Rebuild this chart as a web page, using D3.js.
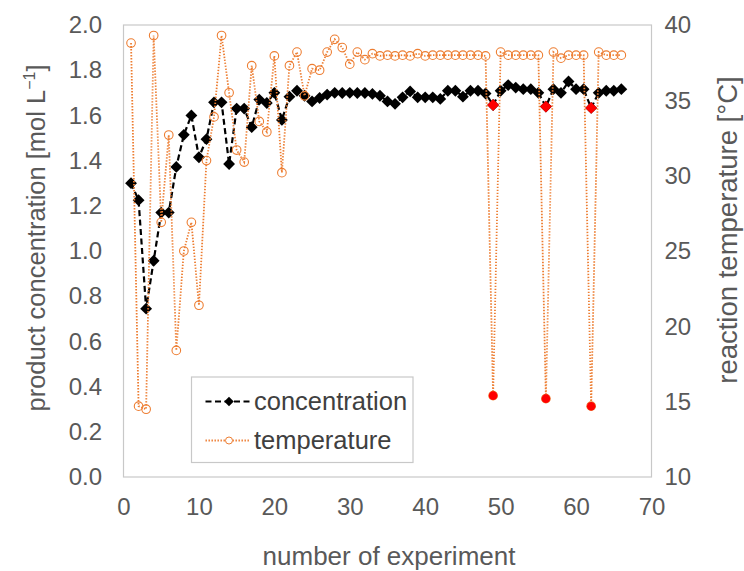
<!DOCTYPE html>
<html>
<head>
<meta charset="utf-8">
<script src="https://cdn.jsdelivr.net/npm/d3@7"></script>
<style>
	body { margin: 0; background: #fff; }
	text { font-family: "Liberation Sans", Arial, sans-serif; }
</style>
</head>
<body>
<div id="chart"></div>
<script>
(function () {'use strict';

var experiments = d3.range(1, 67);

var concentration = [
	1.30, 1.225, 0.745, 0.957, 1.17, 1.17, 1.372, 1.514, 1.60, 1.415,
	1.495, 1.658, 1.658, 1.385, 1.63, 1.63, 1.548, 1.67, 1.655, 1.70,
	1.58, 1.683, 1.709, 1.687, 1.662, 1.677, 1.692, 1.70, 1.699, 1.70,
	1.699, 1.699, 1.695, 1.687, 1.662, 1.651, 1.68, 1.706, 1.68, 1.68,
	1.68, 1.673, 1.709, 1.709, 1.683, 1.709, 1.709, 1.697, 1.646, 1.709,
	1.734, 1.723, 1.716, 1.716, 1.70, 1.639, 1.716, 1.70, 1.75, 1.716,
	1.716, 1.633, 1.70, 1.709, 1.709, 1.716
];

var temperature = [
	38.8, 14.7, 14.5, 39.3, 26.9, 32.7, 18.4, 25.0, 26.9, 21.4,
	31.0, 33.9, 39.3, 35.5, 31.7, 30.9, 37.3, 33.6, 32.9, 37.95,
	30.2, 37.3, 38.2, 35.3, 37.1, 37.0, 38.2, 39.05, 38.5, 37.4,
	38.2, 37.7, 38.1, 37.95, 38.0, 37.95, 38.0, 37.95, 38.1, 37.95,
	38.0, 38.0, 38.0, 38.0, 38.0, 38.0, 38.0, 37.95, 15.4, 38.2,
	38.0, 38.0, 38.0, 38.0, 38.0, 15.2, 38.2, 37.8, 38.0, 38.0,
	38.0, 14.7, 38.2, 38.0, 38.0, 38.0
];

// experiments highlighted in red
var highlighted = [49, 56, 62];

var xTicks = [0, 10, 20, 30, 40, 50, 60, 70],
	yTicks = d3.range(0, 2.01, 0.2),
	y2Ticks = [10, 15, 20, 25, 30, 35, 40];

var width = 744,
	height = 571,
	plot = { left: 123.5, right: 651.5, top: 25, bottom: 477 },
	textColor = '#595959',
	orange = '#ED7D31';

var x = d3.scaleLinear().domain([0, 70]).range([plot.left, plot.right]),
	y = d3.scaleLinear().domain([0, 2]).range([plot.bottom, plot.top]),
	y2 = d3.scaleLinear().domain([10, 40]).range([plot.bottom, plot.top]);

var svg = d3.select('#chart')
	.append('svg')
		.attr('width', width)
		.attr('height', height);

// plot frame
svg.append('rect')
	.attr('x', plot.left)
	.attr('y', plot.top)
	.attr('width', plot.right - plot.left)
	.attr('height', plot.bottom - plot.top)
	.attr('fill', '#fff')
	.attr('stroke', '#c8c8c8')
	.attr('stroke-width', 1.2);

/* AXES */
var xAxis = svg.append('g')
	.attr('transform', 'translate(0,' + (plot.bottom + 20) + ')')
	.call(d3.axisBottom(x).tickValues(xTicks).tickSize(0).tickPadding(0));

var yAxis = svg.append('g')
	.attr('transform', 'translate(' + (plot.left - 21.5) + ',0)')
	.call(d3.axisLeft(y).tickValues(yTicks).tickFormat(d3.format('.1f')).tickSize(0).tickPadding(0));

var y2Axis = svg.append('g')
	.attr('transform', 'translate(' + (plot.right + 13) + ',0)')
	.call(d3.axisRight(y2).tickValues(y2Ticks).tickSize(0).tickPadding(0));

[xAxis, yAxis, y2Axis].forEach(function (g) {
	g.select('.domain').remove();
	g.selectAll('text')
		.attr('fill', textColor)
		.style('font-size', '24px');
});
xAxis.selectAll('text').attr('dy', '0.75em');

svg.append('text')
	.attr('x', 389)
	.attr('y', 565)
	.attr('text-anchor', 'middle')
	.attr('fill', textColor)
	.style('font-size', '26px')
	.text('number of experiment');

var yTitle = svg.append('text')
	.attr('transform', 'translate(45,238) rotate(-90)')
	.attr('text-anchor', 'middle')
	.attr('fill', textColor)
	.style('font-size', '25.5px');
yTitle.append('tspan').text('product concentration [mol L');
yTitle.append('tspan').attr('dy', -10).style('font-size', '16px').text('\u22121');
yTitle.append('tspan').attr('dy', 10).text(']');

svg.append('text')
	.attr('transform', 'translate(737,230) rotate(-90)')
	.attr('text-anchor', 'middle')
	.attr('fill', textColor)
	.style('font-size', '27.5px')
	.text('reaction temperature [\u00B0C]');

/* SERIES */
var diamond = d3.symbol().type(d3.symbolSquare).size(70);

var concLine = d3.line()
	.x(function (d, i) { return x(experiments[i]); })
	.y(function (d) { return y(d); });

var tempLine = d3.line()
	.x(function (d, i) { return x(experiments[i]); })
	.y(function (d) { return y2(d); });

svg.append('path')
	.attr('d', concLine(concentration))
	.attr('fill', 'none')
	.attr('stroke', '#000')
	.attr('stroke-width', 2.2)
	.attr('stroke-dasharray', '6,3.5');

svg.append('g').selectAll('path')
	.data(concentration)
	.enter().append('path')
		.attr('d', diamond)
		.attr('transform', function (d, i) {
			return 'translate(' + x(experiments[i]) + ',' + y(d) + ') rotate(45)';
		})
		.attr('fill', '#000');

// temperature is drawn over concentration
svg.append('path')
	.attr('d', tempLine(temperature))
	.attr('fill', 'none')
	.attr('stroke', orange)
	.attr('stroke-width', 1.8)
	.attr('stroke-dasharray', '1.4,1.6');

svg.append('g').selectAll('circle')
	.data(temperature)
	.enter().append('circle')
		.attr('cx', function (d, i) { return x(experiments[i]); })
		.attr('cy', function (d) { return y2(d); })
		.attr('r', 4.3)
		.attr('fill', 'none')
		.attr('stroke', orange)
		.attr('stroke-width', 1.1);

// red points
highlighted.forEach(function (n) {
	var i = experiments.indexOf(n);
	svg.append('path')
		.attr('d', diamond)
		.attr('transform', 'translate(' + x(n) + ',' + y(concentration[i]) + ') rotate(45)')
		.attr('fill', '#ff0000');
	svg.append('circle')
		.attr('cx', x(n))
		.attr('cy', y2(temperature[i]))
		.attr('r', 4.3)
		.attr('fill', '#ff0000');
});

/* LEGEND */
var legend = svg.append('g')
	.attr('transform', 'translate(191.5,377)');

legend.append('rect')
	.attr('width', 221.5)
	.attr('height', 85.5)
	.attr('fill', '#fff')
	.attr('stroke', '#c8c8c8')
	.attr('stroke-width', 1.2);

legend.append('line')
	.attr('x1', 14).attr('x2', 59)
	.attr('y1', 24.5).attr('y2', 24.5)
	.attr('stroke', '#000')
	.attr('stroke-width', 2.2)
	.attr('stroke-dasharray', '6,3.5');

legend.append('path')
	.attr('d', d3.symbol().type(d3.symbolSquare).size(45))
	.attr('transform', 'translate(37.5,24.5) rotate(45)')
	.attr('fill', '#000');

legend.append('line')
	.attr('x1', 14).attr('x2', 59)
	.attr('y1', 63.5).attr('y2', 63.5)
	.attr('stroke', orange)
	.attr('stroke-width', 1.8)
	.attr('stroke-dasharray', '1.4,1.6');

legend.append('circle')
	.attr('cx', 37.5).attr('cy', 63.5)
	.attr('r', 3.5)
	.attr('fill', '#fff')
	.attr('stroke', orange);

legend.selectAll('text.label')
	.data(['concentration', 'temperature'])
	.enter().append('text')
		.attr('class', 'label')
		.attr('x', 62.5)
		.attr('y', function (d, i) { return 24.5 + i * 39; })
		.attr('dy', '0.35em')
		.attr('fill', '#404040')
		.style('font-size', '25.5px')
		.text(function (d) { return d; });

})();
</script>
</body>
</html>
